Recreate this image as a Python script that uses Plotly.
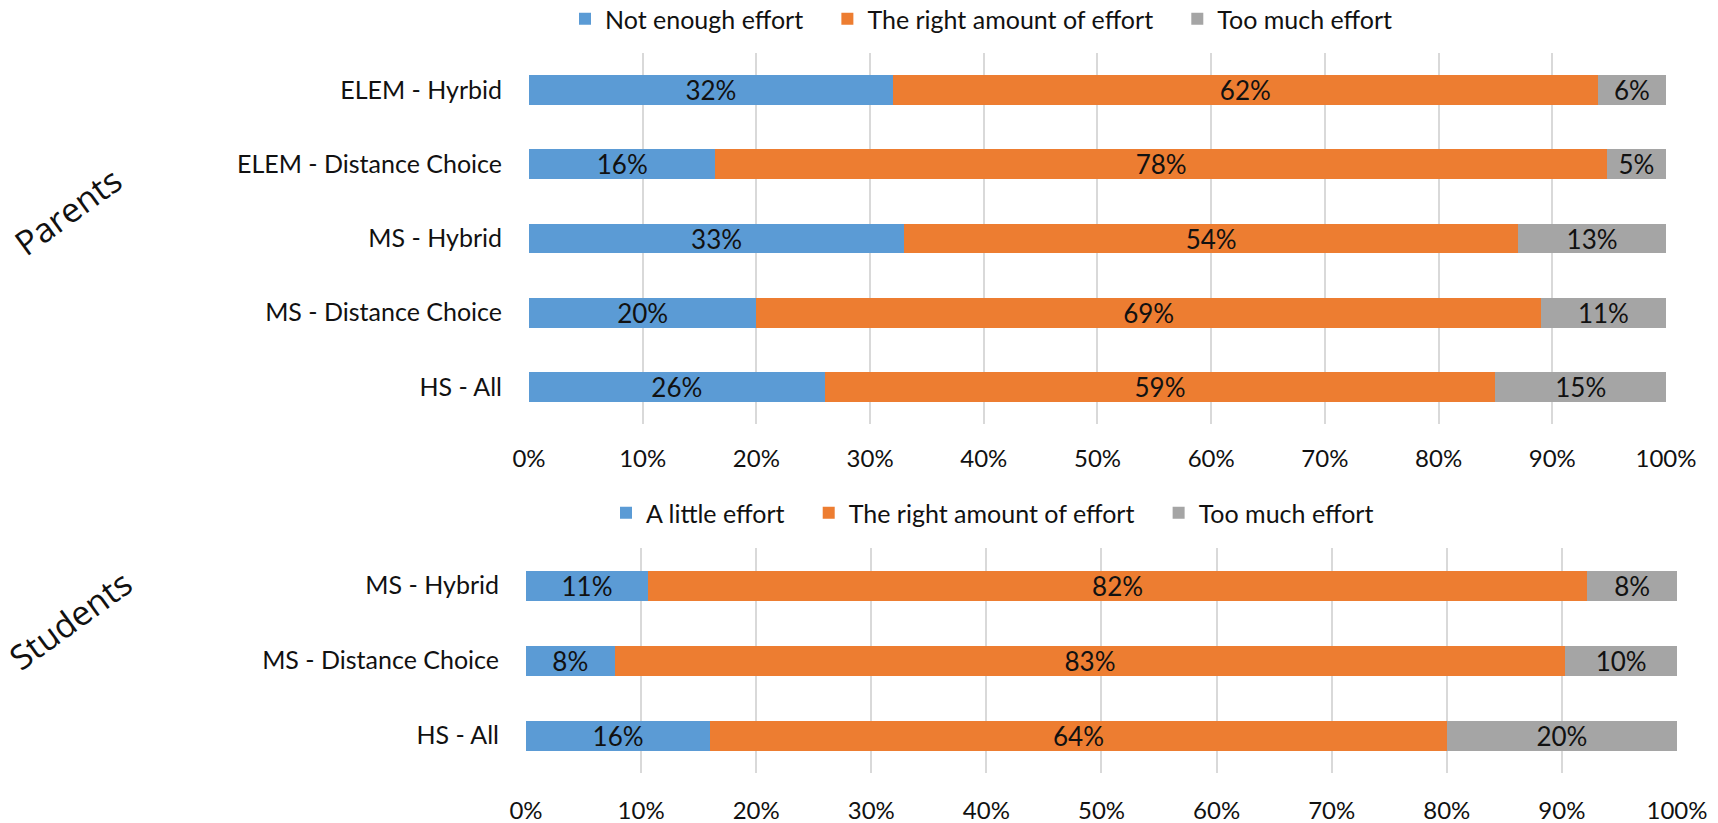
import plotly.graph_objects as go

W, H = 1718, 823

parent_cats = ["ELEM - Hyrbid", "ELEM - Distance Choice", "MS - Hybrid", "MS - Distance Choice", "HS - All"]
parent_not_enough = [32, 16.4, 33, 20, 26]
parent_right = [62, 78.4, 54, 69, 59]
parent_too_much = [6, 5.2, 13, 11, 15]

student_cats = ["MS - Hybrid", "MS - Distance Choice", "HS - All"]
student_little = [10.6, 7.7, 16]
student_right = [81.6, 82.6, 64]
student_too_much = [7.8, 9.7, 20]

x_ticks = [0, 10, 20, 30, 40, 50, 60, 70, 80, 90, 100]
x_tick_labels = [f"{t}%" for t in x_ticks]

BLUE, ORANGE, GRAY = "#5B9BD5", "#ED7D31", "#A5A5A5"
FONT = "Lato"
TXT = "#111111"
PAD = "\u00a0\u00a0\u00a0"

fig = go.Figure()

def add(cats, vals, name, color, xa, ya, legend):
    fig.add_trace(go.Bar(
        y=cats, x=vals, name=name + PAD, orientation="h",
        marker=dict(color=color, line=dict(width=0)),
        text=[f"{round(v)}%" for v in vals], textposition="inside",
        insidetextanchor="middle", textangle=0, constraintext="none",
        textfont=dict(family=FONT, size=26, color=TXT),
        xaxis=xa, yaxis=ya, legend=legend, width=0.4,
        cliponaxis=False,
    ))

add(parent_cats, parent_not_enough, "Not enough effort", BLUE, "x", "y", "legend")
add(parent_cats, parent_right, "The right amount of effort", ORANGE, "x", "y", "legend")
add(parent_cats, parent_too_much, "Too much effort", GRAY, "x", "y", "legend")
add(student_cats, student_little, "A little effort", BLUE, "x2", "y2", "legend2")
add(student_cats, student_right, "The right amount of effort", ORANGE, "x2", "y2", "legend2")
add(student_cats, student_too_much, "Too much effort", GRAY, "x2", "y2", "legend2")

def py(px):
    return 1 - px / H

xcommon = dict(range=[0, 100.001], tickvals=x_ticks, ticktext=x_tick_labels,
               showgrid=True, gridcolor="#d9d9d9", gridwidth=1.5, zeroline=False,
               showline=False, ticks="", automargin=False,
               tickfont=dict(family=FONT, size=24, color=TXT), fixedrange=True)
ycommon = dict(autorange="reversed", showgrid=False, zeroline=False, showline=False,
               ticks="", ticklabelstandoff=26, automargin=False,
               tickfont=dict(family=FONT, size=25, color=TXT), fixedrange=True)

legcommon = dict(orientation="h", xanchor="center", yanchor="middle",
                 font=dict(family=FONT, size=25, color=TXT), itemwidth=30,
                 bgcolor="rgba(0,0,0,0)", traceorder="normal")

ann_font = dict(family="Open Sans", size=34, color=TXT)

fig.update_layout(
    width=W, height=H, margin=dict(l=0, r=0, t=0, b=0, autoexpand=False),
    paper_bgcolor="white", plot_bgcolor="white",
    barmode="stack", bargap=0.6,
    xaxis=dict(domain=[529 / W, 1666 / W], anchor="y", ticklabelstandoff=18, **xcommon),
    yaxis=dict(domain=[py(424), py(53)], anchor="x", **ycommon),
    xaxis2=dict(domain=[526 / W, 1677 / W], anchor="y2", ticklabelstandoff=21, **xcommon),
    yaxis2=dict(domain=[py(773), py(548)], anchor="x2", **ycommon),
    legend=dict(x=991 / W, y=py(19), **legcommon),
    legend2=dict(x=1002 / W, y=py(513), **legcommon),
    annotations=[
        dict(text="Parents", x=68 / W, y=py(211), xref="paper", yref="paper",
             xanchor="center", yanchor="middle",
             showarrow=False, textangle=-36, font=ann_font),
        dict(text="Students", x=70 / W, y=py(620), xref="paper", yref="paper",
             xanchor="center", yanchor="middle",
             showarrow=False, textangle=-36, font=ann_font),
    ],
)

fig.write_html("out.html", config={"displayModeBar": False},
               post_script="document.body.style.margin='0';document.body.style.overflow='hidden';")
